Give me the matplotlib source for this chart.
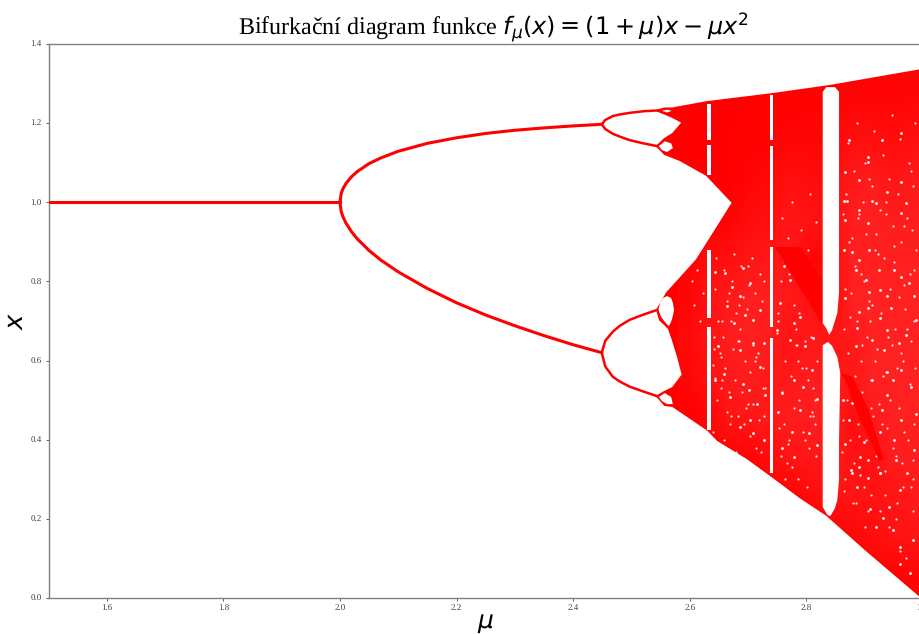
import matplotlib
matplotlib.use('Agg')
import matplotlib.pyplot as plt
from matplotlib.colors import LinearSegmentedColormap
from matplotlib.patches import Polygon

# period 1 and period 2 branches
p1_mu = [1.5, 2.0]
p1_x = [1.0, 1.0]
p2_mu = [2.0, 2.002, 2.005, 2.01, 2.02, 2.03, 2.05, 2.07, 2.1, 2.15, 2.2, 2.25, 2.3, 2.35, 2.4, 2.449]
p2_up = [1.0, 1.022, 1.034, 1.047, 1.065, 1.078, 1.098, 1.112, 1.129, 1.149, 1.163, 1.174, 1.182, 1.188, 1.193, 1.197]
p2_lo = [1.0, 0.977, 0.964, 0.948, 0.925, 0.907, 0.878, 0.854, 0.824, 0.782, 0.746, 0.715, 0.688, 0.663, 0.640, 0.620]

# period 4 branches
p4_mu = [2.449, 2.455, 2.468, 2.48, 2.497, 2.52, 2.544]
p4_a = [1.197, 1.208, 1.218, 1.222, 1.226, 1.230, 1.232]
p4_b = [1.197, 1.185, 1.173, 1.166, 1.157, 1.149, 1.142]
p4_c = [0.620, 0.650, 0.673, 0.688, 0.703, 0.716, 0.728]
p4_d = [0.620, 0.585, 0.559, 0.547, 0.534, 0.522, 0.510]

# outline of the chaotic area, clockwise from the top left
band_mu = [2.544, 2.557, 2.570, 2.629, 2.740, 2.841, 2.993, 3.0,
           3.0, 2.993, 2.903, 2.835, 2.789, 2.741, 2.698, 2.648, 2.631, 2.571,
           2.557, 2.544, 2.557, 2.571, 2.588, 2.580, 2.571, 2.564, 2.549,
           2.544, 2.561, 2.612, 2.674, 2.629, 2.583, 2.557, 2.544, 2.557,
           2.571, 2.588, 2.570, 2.544]
band_x = [1.232, 1.237, 1.237, 1.253, 1.273, 1.294, 1.333, 1.335,
          0.0, 0.008, 0.121, 0.210, 0.255, 0.308, 0.354, 0.399, 0.425, 0.485,
          0.488, 0.510, 0.521, 0.531, 0.564, 0.609, 0.652, 0.682, 0.703,
          0.728, 0.771, 0.854, 0.999, 1.069, 1.107, 1.122, 1.142, 1.160,
          1.173, 1.202, 1.216, 1.232]

# how mottled the chaotic area looks, one row per 0.1 of x (top row first),
# one column per 0.035 of mu from 2.58 to 3.0
mottle = [
    [0, 0, 0, 0, 0, 0, 0, 0, 0.02, 0.02, 0.03, 0.05],
    [0, 0, 0, 0.02, 0.03, 0.03, 0.05, 0.05, 0.1, 0.1, 0.1, 0.12],
    [0, 0, 0.02, 0.03, 0.05, 0.1, 0.1, 0.1, 0.25, 0.25, 0.2, 0.25],
    [0, 0, 0, 0.1, 0.15, 0.25, 0.2, 0.2, 0.4, 0.45, 0.35, 0.4],
    [0, 0.05, 0.05, 0.2, 0.25, 0.35, 0.3, 0.2, 0.45, 0.5, 0.45, 0.45],
    [0.05, 0.2, 0.25, 0.35, 0.4, 0.35, 0.1, 0.1, 0.5, 0.5, 0.5, 0.5],
    [0.1, 0.3, 0.4, 0.5, 0.45, 0.4, 0.3, 0.1, 0.5, 0.55, 0.5, 0.5],
    [0.15, 0.3, 0.45, 0.5, 0.45, 0.3, 0.4, 0.35, 0.4, 0.5, 0.55, 0.5],
    [0.1, 0.25, 0.4, 0.45, 0.4, 0.4, 0.45, 0.45, 0.35, 0.5, 0.5, 0.5],
    [0, 0.1, 0.3, 0.35, 0.4, 0.45, 0.45, 0.5, 0.2, 0.4, 0.5, 0.5],
    [0, 0, 0, 0.05, 0.2, 0.3, 0.35, 0.4, 0.3, 0.25, 0.45, 0.45],
    [0, 0, 0, 0, 0, 0.05, 0.15, 0.3, 0.3, 0.3, 0.3, 0.4],
    [0, 0, 0, 0, 0, 0, 0, 0, 0.1, 0.2, 0.3, 0.3],
    [0, 0, 0, 0, 0, 0, 0, 0, 0, 0, 0, 0.1],
]

# solid red areas without specks
solid1_mu = [2.746, 2.790, 2.828, 2.828]
solid1_x = [0.887, 0.887, 0.800, 0.690]
solid2_mu = [2.858, 2.878, 2.907, 2.933, 2.925, 2.890, 2.867]
solid2_x = [0.569, 0.560, 0.475, 0.348, 0.348, 0.458, 0.550]

# small white bubbles at the end of the period 4 branches
bub1_mu = [2.552, 2.561, 2.569, 2.561]
bub1_x = [1.231, 1.234, 1.231, 1.227]
bub2_mu = [2.547, 2.557, 2.568, 2.571, 2.561, 2.552]
bub2_x = [1.142, 1.154, 1.149, 1.137, 1.127, 1.132]
bub3_mu = [2.546, 2.549, 2.554, 2.561, 2.568, 2.571, 2.573, 2.571, 2.568, 2.564, 2.557, 2.551]
bub3_x = [0.728, 0.746, 0.758, 0.763, 0.758, 0.746, 0.728, 0.713, 0.698, 0.687, 0.698, 0.710]
bub4_mu = [2.547, 2.557, 2.568, 2.571, 2.561, 2.552]
bub4_x = [0.508, 0.518, 0.508, 0.490, 0.490, 0.498]

# narrow periodic windows: left, right, top, bottom
win_left = [2.629, 2.629, 2.629, 2.629, 2.738, 2.738, 2.738, 2.738]
win_right = [2.636, 2.636, 2.636, 2.636, 2.743, 2.743, 2.743, 2.743]
win_top = [1.248, 1.145, 0.879, 0.685, 1.271, 1.142, 0.887, 0.657]
win_bottom = [1.157, 1.069, 0.708, 0.425, 1.157, 0.905, 0.685, 0.316]

# big window around mu = 2.84
big1_mu = [2.828, 2.834, 2.849, 2.856, 2.856, 2.853, 2.844, 2.839, 2.834, 2.828]
big1_x = [1.279, 1.291, 1.291, 1.279, 0.771, 0.720, 0.677, 0.665, 0.682, 0.695]
big2_mu = [2.828, 2.837, 2.844, 2.853, 2.858, 2.856, 2.856, 2.853, 2.849, 2.841, 2.836, 2.828]
big2_x = [0.639, 0.647, 0.637, 0.609, 0.569, 0.399, 0.298, 0.248, 0.227, 0.207, 0.210, 0.230]

# larger white flecks
fleck_mu = [2.867, 2.870, 2.865, 2.913, 2.962, 2.905, 2.905, 2.890, 2.970, 2.890, 2.905, 2.939, 2.962, 2.867,
            2.919, 2.930, 2.962, 2.873, 2.885, 2.907, 2.902, 2.939, 2.945, 2.905, 2.962, 2.927, 2.885, 2.867,
            2.927, 2.988, 2.970, 2.959, 2.933, 2.879, 2.907, 2.890, 2.976, 2.890, 2.950, 2.865, 2.925, 2.985,
            2.887, 2.913, 2.939, 2.939, 2.927, 2.962, 2.913, 2.930, 2.962, 2.879, 2.867, 2.899, 2.905, 2.927,
            2.953, 2.985, 2.979, 2.948, 2.862, 2.873, 2.939, 2.988, 2.950, 2.973, 2.876, 2.890, 2.906, 2.926,
            2.941, 2.909, 2.961, 2.961, 2.878, 2.892, 2.920, 2.949, 2.886, 2.932, 2.983, 2.978, 2.961, 2.661,
            2.644, 2.727, 2.709, 2.692, 2.704, 2.672, 2.772, 2.755, 2.721, 2.664, 2.686, 2.807, 2.789, 2.778,
            2.812, 2.761, 2.798, 2.649, 2.686, 2.709, 2.772, 2.749, 2.695, 2.675, 2.644, 2.701, 2.729, 2.758,
            2.804, 2.818, 2.775, 2.686, 2.752, 2.692, 2.669, 2.795, 2.704, 2.778, 2.715, 2.658, 2.721, 2.809,
            2.789, 2.818, 2.778, 2.758, 2.727, 2.709]
fleck_x = [1.077, 1.002, 1.002, 1.002, 1.052, 1.115, 1.103, 1.056, 0.998, 0.981, 0.947, 1.027, 0.972, 0.955,
           0.998, 1.157, 1.174, 1.157, 0.636, 0.774, 0.804, 0.762, 0.732, 0.732, 0.812, 0.779, 0.829, 0.758,
           0.707, 0.703, 0.665, 0.644, 0.627, 0.875, 0.880, 0.854, 0.795, 0.724, 0.829, 0.880, 0.829, 0.762,
           0.682, 0.652, 0.678, 0.513, 0.420, 0.576, 0.550, 0.475, 0.449, 0.492, 0.390, 0.395, 0.348, 0.315,
           0.348, 0.374, 0.534, 0.550, 0.500, 0.449, 0.572, 0.466, 0.399, 0.315, 0.323, 0.332, 0.302, 0.315,
           0.231, 0.226, 0.130, 0.273, 0.315, 0.357, 0.180, 0.172, 0.281, 0.201, 0.146, 0.062, 0.087, 0.821,
           0.825, 0.644, 0.703, 0.833, 0.796, 0.787, 0.804, 0.745, 0.728, 0.737, 0.762, 0.758, 0.711, 0.695,
           0.657, 0.838, 0.636, 0.636, 0.627, 0.644, 0.652, 0.678, 0.716, 0.694, 0.550, 0.525, 0.513, 0.517,
           0.416, 0.504, 0.420, 0.433, 0.470, 0.542, 0.508, 0.534, 0.449, 0.550, 0.491, 0.567, 0.584, 0.576,
           0.475, 0.386, 0.357, 0.378, 0.399, 0.416]

# finer white specks
speck_mu = [2.603, 2.607, 2.612, 2.618, 2.622, 2.645, 2.643, 2.648, 2.651, 2.643, 2.646,
            2.659, 2.663, 2.657, 2.661, 2.664, 2.658, 2.676, 2.672, 2.679, 2.674, 2.677, 2.671, 2.68,
            2.688, 2.692, 2.686, 2.694, 2.689, 2.693, 2.687, 2.706, 2.702, 2.708, 2.703, 2.709, 2.704,
            2.72, 2.723, 2.717, 2.725, 2.719, 2.722, 2.758, 2.762, 2.756, 2.763, 2.759, 2.761, 2.757, 2.764,
            2.776, 2.772, 2.779, 2.774, 2.778, 2.771, 2.775, 2.79, 2.794, 2.787, 2.792, 2.788, 2.795, 2.786,
            2.806, 2.802, 2.808, 2.803, 2.807, 2.804, 2.801, 2.816, 2.813, 2.818, 2.814, 2.817,
            2.871, 2.868, 2.873, 2.866, 2.872, 2.869, 2.874, 2.867, 2.886, 2.882, 2.888, 2.883, 2.887, 2.884, 2.889, 2.881, 2.885,
            2.901, 2.897, 2.903, 2.899, 2.904, 2.896, 2.902, 2.898, 2.9,
            2.916, 2.912, 2.918, 2.913, 2.917, 2.914, 2.919, 2.911,
            2.931, 2.927, 2.933, 2.928, 2.932, 2.929, 2.934, 2.926,
            2.946, 2.942, 2.948, 2.943, 2.947, 2.944, 2.949, 2.941,
            2.961, 2.957, 2.963, 2.958, 2.962, 2.959, 2.964, 2.956, 2.96,
            2.976, 2.972, 2.978, 2.973, 2.977, 2.974, 2.979, 2.971,
            2.986, 2.983, 2.988, 2.984, 2.987, 2.985, 2.982,
            2.863, 2.879, 2.894, 2.908, 2.923, 2.936, 2.951, 2.967, 2.981, 2.864, 2.877, 2.893, 2.909, 2.921,
            2.937, 2.952, 2.966, 2.98, 2.862, 2.876, 2.891, 2.91, 2.924, 2.938, 2.953, 2.968, 2.982, 2.865,
            2.88, 2.892, 2.906, 2.922, 2.935, 2.954, 2.965, 2.983, 2.861, 2.875, 2.895, 2.911, 2.925, 2.94,
            2.955, 2.969, 2.984, 2.89, 2.907, 2.92, 2.936, 2.95, 2.967, 2.979, 2.639, 2.655, 2.668, 2.683,
            2.698, 2.712, 2.728, 2.75, 2.768, 2.784, 2.799, 2.812, 2.64, 2.654, 2.669, 2.684, 2.699, 2.713,
            2.727, 2.752, 2.769, 2.783, 2.8, 2.814, 2.641, 2.656, 2.67, 2.682, 2.697, 2.711, 2.729, 2.751,
            2.767, 2.782, 2.798, 2.811, 2.642, 2.653, 2.667, 2.685, 2.7, 2.714, 2.726, 2.753, 2.77, 2.785,
            2.797, 2.81]
speck_x = [0.80, 0.74, 0.83, 0.70, 0.77, 0.86, 0.78, 0.70, 0.62, 0.556, 0.50,
           0.83, 0.75, 0.66, 0.58, 0.47, 0.40, 0.87, 0.80, 0.72, 0.63, 0.55, 0.46, 0.37,
           0.84, 0.76, 0.68, 0.60, 0.52, 0.44, 0.35, 0.86, 0.79, 0.64, 0.57, 0.49, 0.41,
           0.82, 0.75, 0.62, 0.53, 0.45, 0.37, 0.96, 0.88, 0.80, 0.60, 0.52, 0.44, 0.36, 0.30,
           1.00, 0.86, 0.74, 0.56, 0.48, 0.40, 0.33, 0.93, 0.84, 0.72, 0.58, 0.50, 0.42, 0.30,
           1.02, 0.88, 0.66, 0.55, 0.46, 0.38, 0.28, 0.95, 0.78, 0.60, 0.50, 0.36,
           1.15, 1.02, 0.90, 0.78, 0.62, 0.50, 0.40, 0.30, 1.20, 1.08, 0.96, 0.84, 0.70, 0.56, 0.44, 0.34, 0.24,
           1.10, 1.00, 0.92, 0.80, 0.66, 0.52, 0.40, 0.28, 0.18,
           1.18, 1.04, 0.88, 0.74, 0.60, 0.46, 0.36, 0.26,
           1.12, 0.98, 0.86, 0.72, 0.56, 0.44, 0.32, 0.22,
           1.22, 1.06, 0.94, 0.78, 0.64, 0.50, 0.38, 0.18,
           1.16, 1.02, 0.90, 0.76, 0.62, 0.48, 0.34, 0.24, 0.12,
           1.10, 0.96, 0.82, 0.68, 0.54, 0.40, 0.28, 0.10,
           1.20, 1.04, 0.88, 0.70, 0.58, 0.44, 0.30,
           0.97, 0.91, 0.82, 0.75, 0.87, 0.97, 0.85, 0.79, 0.93, 0.68, 0.77, 0.60, 0.70, 0.63,
           0.57, 0.68, 0.60, 0.65, 0.45, 0.53, 0.41, 0.48, 0.37, 0.43, 0.36, 0.42, 0.35, 0.27,
           0.24, 0.31, 0.22, 0.33, 0.26, 0.20, 0.28, 0.22, 0.37, 0.71, 0.64, 0.55, 0.49, 0.66,
           0.58, 0.73, 0.83, 0.97, 1.06, 0.92, 1.00, 0.89, 0.94, 1.08, 0.59, 0.70, 0.52, 0.65,
           0.73, 0.60, 0.80, 0.67, 0.91, 0.64, 0.80, 0.53, 0.42, 0.61, 0.44, 0.74, 0.49, 0.61,
           0.46, 0.72, 0.39, 0.64, 0.58, 0.44, 0.66, 0.55, 0.70, 0.46, 0.48, 0.77, 0.53, 0.70,
           0.34, 0.68, 0.40, 0.46, 0.63, 0.53, 0.77, 0.65, 0.84, 0.38, 0.58, 0.43, 0.82, 0.60,
           0.65, 0.47]

x_ticks = [1.6, 1.8, 2.0, 2.2, 2.4, 2.6, 2.8, 3.0]
y_ticks = [0.0, 0.2, 0.4, 0.6, 0.8, 1.0, 1.2, 1.4]

RED = '#ff0000'
GREY = '#808080'

plt.rcParams['font.family'] = ['Liberation Serif', 'DejaVu Sans']
plt.rcParams['mathtext.fontset'] = 'dejavusans'
plt.rcParams['text.hinting'] = 'no_hinting'
plt.rcParams['text.hinting_factor'] = 1

fig = plt.figure(figsize=(9.19, 6.34), dpi=100)
# the right end of the axes runs just past the edge of the picture
ax = fig.add_axes([48.5 / 919, 36 / 634, 874.5 / 919, 554 / 634])

band = ax.fill(band_mu, band_x, color=RED, lw=1.5, zorder=2)[0]

red_to_pink = LinearSegmentedColormap.from_list('mottle', [RED, 'white'])
shade = ax.imshow(mottle, extent=(2.58, 3.0, 0.0, 1.4), origin='upper', aspect='auto',
                  cmap=red_to_pink, vmin=0, vmax=4, interpolation='bilinear', zorder=2.5)
shade.set_clip_path(Polygon(list(zip(band_mu, band_x)), transform=ax.transData))

ax.scatter(speck_mu, speck_x, s=2.5, color='white', alpha=0.85, linewidths=0, zorder=3)
ax.scatter(fleck_mu, fleck_x, s=4, color='white', linewidths=0, zorder=3)

ax.fill(solid1_mu, solid1_x, color=RED, lw=0, zorder=3.5)
ax.fill(solid2_mu, solid2_x, color=RED, lw=0, zorder=3.5)

for left, right, top, bottom in zip(win_left, win_right, win_top, win_bottom):
    ax.fill_between([left, right], bottom, top, color='white', lw=0, zorder=4)
ax.fill(big1_mu, big1_x, color='white', lw=0, zorder=4)
ax.fill(big2_mu, big2_x, color='white', lw=0, zorder=4)

for b_mu, b_x in [(bub1_mu, bub1_x), (bub2_mu, bub2_x), (bub3_mu, bub3_x), (bub4_mu, bub4_x)]:
    ax.fill(b_mu, b_x, color='white', lw=0, zorder=4)

ax.plot(p1_mu, p1_x, color=RED, lw=2.2, zorder=5)
ax.plot(p2_mu, p2_up, color=RED, lw=2.2, zorder=5)
ax.plot(p2_mu, p2_lo, color=RED, lw=2.2, zorder=5)
for branch in [p4_a, p4_b, p4_c, p4_d]:
    ax.plot(p4_mu, branch, color=RED, lw=1.8, zorder=5)

ax.set_xlim(1.5, 3.0)
ax.set_ylim(0.0, 1.4)
ax.set_xticks(x_ticks)
ax.set_yticks(y_ticks)
ax.tick_params(labelsize=6.5, length=2, width=0.6, color='#444444', labelcolor='#444444', pad=3)
for side in ax.spines.values():
    side.set_color(GREY)
    side.set_linewidth(1.0)

ax.set_title(r'Bifurkační diagram funkce $f_{\mu}(x) = (1 + \mu)x - \mu x^2$', fontsize=17.5, pad=5, x=0.509)
ax.set_xlabel(r'$\mu$', fontsize=18, labelpad=-1)
ax.set_ylabel(r'$x$', fontsize=19, labelpad=1)

fig.savefig('out.png', dpi=100)
